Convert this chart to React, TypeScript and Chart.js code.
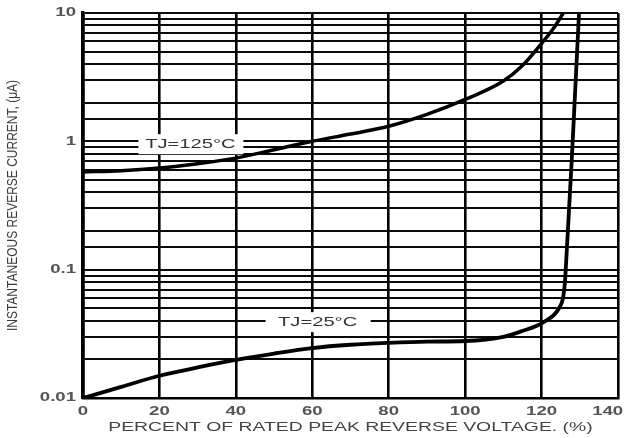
import React, { useEffect, useRef } from "react";
import { Chart, registerables } from "chart.js";

Chart.register(...registerables);

// ---- data ----
const pct125 = [0, 10, 20, 30, 40, 50, 60, 70, 80, 90, 100, 110, 115, 120, 123, 125.7];
const cur125 = [0.577, 0.59, 0.62, 0.67, 0.74, 0.86, 1.0, 1.14, 1.31, 1.62, 2.12, 2.95, 3.9, 5.8, 7.5, 10];

const pct25 = [0, 10, 20, 30, 40, 50, 60, 70, 80, 90, 100, 110, 114.5, 120.5, 124.8, 125.6, 126.1, 126.6, 127.2, 127.9, 128.8, 129.8];
const cur25 = [0.01, 0.0122, 0.0149, 0.0173, 0.0198, 0.0222, 0.0245, 0.026, 0.0269, 0.0275, 0.0278, 0.03, 0.0329, 0.039, 0.0514, 0.06, 0.079, 0.142, 0.3, 0.72, 2.5, 10];

const yTickValues = [0.01, 0.1, 1, 10];
const yTickLabels = ["0.01", "0.1", "1", "10"];

const labelTexts = ["TJ=125°C", "TJ=25°C"];
const labelAnchorX = [28.1, 61.4];
const labelAnchorY = [0.95, 0.039];

const xTitle = "PERCENT OF RATED PEAK REVERSE VOLTAGE. (%)";
const yTitle = "INSTANTANEOUS REVERSE CURRENT, (\u03BCA)";

const FONT = '"Liberation Sans", Arial, sans-serif';
const SX = 1.55;
const SX_ROT = 0.8;

const toPoints = (xs: number[], ys: number[]) => xs.map((x, i) => ({ x, y: ys[i] }));

const labelPlugin = {
  id: "tjLabels",
  beforeDatasetsDraw(chart: any) {
    const { ctx, scales } = chart;
    const xs = scales.x;
    const ys = scales.y;
    labelTexts.forEach((t, i) => {
      const cx = xs.getPixelForValue(labelAnchorX[i]);
      const cy = ys.getPixelForValue(labelAnchorY[i]);
      ctx.save();
      ctx.fillStyle = "#ffffff";
      ctx.fillRect(cx - 52, cy - 10, 105, 20);
      ctx.font = `13px ${FONT}`;
      ctx.fillStyle = "#333333";
      ctx.textAlign = "center";
      ctx.textBaseline = "middle";
      ctx.fillText(t, cx, cy);
      ctx.restore();
    });
  },
};

export default function App() {
  const ref = useRef<HTMLCanvasElement | null>(null);

  useEffect(() => {
    const canvas = ref.current!;
    const ctx = canvas.getContext("2d")! as any;
    const origFill = ctx.fillText.bind(ctx);
    const origMeasure = ctx.measureText.bind(ctx);
    ctx.fillText = (text: string, x: number, y: number) => {
      const t = ctx.getTransform();
      const s = Math.abs(t.b) > 0.5 ? SX_ROT : SX;
      ctx.save();
      ctx.translate(x, y);
      ctx.scale(s, 1);
      origFill(text, 0, 0);
      ctx.restore();
    };
    ctx.measureText = (text: string) => {
      const m = origMeasure(text);
      return {
        width: m.width * SX,
        actualBoundingBoxAscent: m.actualBoundingBoxAscent,
        actualBoundingBoxDescent: m.actualBoundingBoxDescent,
        actualBoundingBoxLeft: m.actualBoundingBoxLeft * SX,
        actualBoundingBoxRight: m.actualBoundingBoxRight * SX,
      };
    };

    const chart = new Chart(canvas, {
      type: "line",
      data: {
        datasets: [
          {
            label: "TJ=125°C",
            data: toPoints(pct125, cur125),
            borderColor: "#000",
            borderWidth: 3.5,
            pointRadius: 0,
            fill: false,
            cubicInterpolationMode: "monotone",
          },
          {
            label: "TJ=25°C",
            data: toPoints(pct25, cur25),
            borderColor: "#000",
            borderWidth: 3.8,
            pointRadius: 0,
            fill: false,
            cubicInterpolationMode: "monotone",
          },
        ],
      },
      options: {
        responsive: false,
        animation: false,
        events: [],
        layout: { padding: { top: 13, right: 11, left: 0, bottom: 0 } },
        plugins: {
          legend: { display: false },
          tooltip: { enabled: false },
        },
        scales: {
          x: {
            type: "linear",
            min: 0,
            max: 140,
            ticks: {
              stepSize: 20,
              color: "#555",
              padding: 6,
              font: { family: FONT, size: 12, weight: "bold" },
              callback: (v: any) => (v === 140 ? "140    " : String(v)),
            },
            grid: { color: "#000", lineWidth: 2.6, drawTicks: false },
            border: { color: "#000", width: 2.5 },
            title: {
              display: true,
              text: xTitle,
              color: "#444",
              font: { family: FONT, size: 12.5 },
              padding: { top: 0, bottom: 3 },
            },
            afterFit: (s: any) => {
              s.height = 40;
              s.paddingLeft = 0;
              s.paddingRight = 0;
            },
          },
          y: {
            type: "logarithmic",
            min: 0.01,
            max: 10,
            ticks: {
              autoSkip: false,
              color: "#555",
              padding: 7,
              font: { family: FONT, size: 12, weight: "bold" },
              callback: (v: any) => {
                const i = yTickValues.findIndex((t) => Math.abs(v - t) / t < 1e-6);
                return i >= 0 ? yTickLabels[i] : "";
              },
            },
            grid: { color: "#0a0a0a", lineWidth: 2, drawTicks: false },
            border: { color: "#000", width: 3.5 },
            title: {
              display: true,
              text: yTitle,
              color: "#3a3a3a",
              font: { family: FONT, size: 15 },
              padding: { top: 4, bottom: 0 },
            },
            afterFit: (s: any) => {
              s.width = 83;
              s.paddingTop = 0;
              s.paddingBottom = 0;
            },
          },
        },
      } as any,
      plugins: [labelPlugin],
    });

    return () => {
      chart.destroy();
    };
  }, []);

  return (
    <div style={{ position: "absolute", left: 0, top: 0, width: 629, height: 438, background: "#fff" }}>
      <canvas ref={ref} width={629} height={438} style={{ display: "block" }} />
    </div>
  );
}
